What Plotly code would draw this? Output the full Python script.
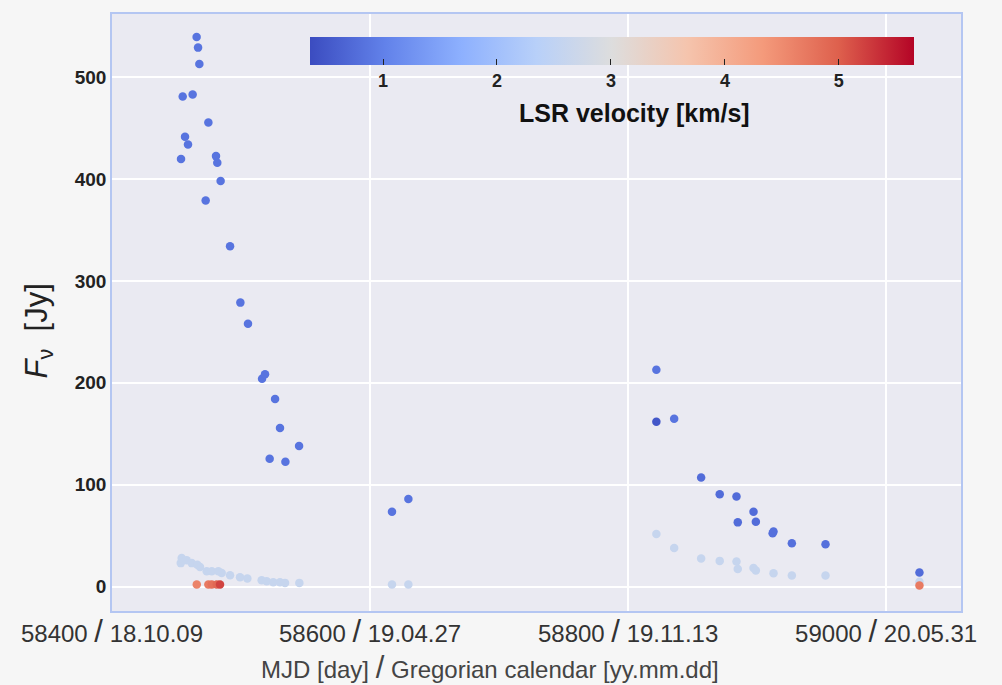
import plotly.graph_objects as go

# Strong (blue) velocity component
mjd_blue = [58453.5, 58454.8, 58456.6, 58458.9, 58462.5, 58465.6, 58466.7, 58467.7,
            58472.6, 58474.7, 58480.6, 58481.6, 58484.2, 58491.5, 58499.5, 58505.4,
            58516.3, 58518.6, 58522.2, 58526.4, 58530.2, 58534.4, 58545.0,
            58617.0, 58629.7,
            58821.9, 58821.9, 58835.7, 58856.6, 58871.0, 58884.0, 58885.0, 58897.2,
            58899.0, 58912.7, 58912.0, 58926.9, 58953.0, 59025.8]
flux_blue = [419.6, 481.0, 441.5, 434.0, 483.0, 539.5, 529.0, 513.0,
             379.0, 455.6, 422.5, 416.0, 398.0, 334.0, 278.7, 258.0,
             204.0, 208.5, 125.5, 184.0, 155.6, 122.5, 138.0,
             73.5, 86.0,
             212.7, 161.8, 164.7, 107.0, 90.5, 88.5, 63.0, 73.5,
             63.7, 54.0, 52.3, 42.5, 41.5, 13.7]
vlsr_blue = [0.85, 0.85, 0.85, 0.85, 0.85, 0.85, 0.85, 0.85,
             0.85, 0.85, 0.85, 0.85, 0.85, 0.85, 0.85, 0.85,
             0.85, 0.85, 0.85, 0.85, 0.85, 0.85, 0.85,
             0.85, 0.85,
             0.85, 0.5, 0.85, 0.75, 0.75, 0.75, 0.75, 0.75,
             0.75, 0.8, 0.8, 0.8, 0.8, 0.75]

# Weak (light) velocity component
mjd_light = [58453.3, 58454.0, 58457.9, 58461.8, 58466.1, 58468.2, 58473.4, 58477.3,
             58482.4, 58485.0, 58491.5, 58499.2, 58504.9, 58516.0, 58519.9, 58525.0,
             58530.2, 58534.1, 58545.2,
             58617.0, 58629.7,
             58821.9, 58835.7, 58856.6, 58871.0, 58884.0, 58885.0, 58897.2, 58899.0,
             58912.7, 58926.9, 58953.0, 59025.8]
flux_light = [23.0, 28.0, 25.8, 23.0, 21.5, 19.3, 15.0, 15.0,
              15.0, 13.4, 11.0, 9.1, 7.8, 6.2, 5.2, 4.2,
              4.2, 3.6, 3.6,
              2.0, 2.0,
              51.6, 37.9, 27.5, 25.2, 24.5, 17.3, 18.3, 15.7,
              13.0, 10.8, 10.8, 4.6]
vlsr_light = [2.6] * len(mjd_light)

# Red-shifted velocity component
mjd_red = [58465.7, 58474.7, 58477.3, 58481.2, 58483.7, 59025.8]
flux_red = [2.0, 2.0, 2.0, 2.0, 2.0, 1.0]
vlsr_red = [4.6, 4.7, 4.8, 4.9, 5.2, 4.7]

x_ticks = [58400, 58600, 58800, 59000]
x_mjd_labels = ["58400", "58600", "58800", "59000"]
x_date_labels = ["18.10.09", "19.04.27", "19.11.13", "20.05.31"]
y_ticks = [0, 100, 200, 300, 400, 500]
cb_ticks = [1, 2, 3, 4, 5]

SLASH = "<span style='font-size:31px'>/</span>"
x_ticktext = [f"{m} {SLASH} {d}" for m, d in zip(x_mjd_labels, x_date_labels)]

coolwarm = [
    [0.0, "rgb(59,76,192)"], [0.125, "rgb(98,130,234)"], [0.25, "rgb(141,176,254)"],
    [0.375, "rgb(184,208,249)"], [0.5, "rgb(221,221,221)"], [0.625, "rgb(245,196,173)"],
    [0.75, "rgb(244,154,123)"], [0.875, "rgb(222,96,77)"], [1.0, "rgb(180,4,38)"],
]

xs = mjd_light + mjd_blue + mjd_red
ys = flux_light + flux_blue + flux_red
cs = vlsr_light + vlsr_blue + vlsr_red

fig = go.Figure()
fig.add_trace(go.Scatter(
    x=xs, y=ys, mode="markers",
    marker=dict(
        size=8.5, color=cs, colorscale=coolwarm, cmin=0.36, cmax=5.66,
        line=dict(width=0),
        colorbar=dict(
            orientation="h", x=0.589, xanchor="center", y=0.962, yanchor="top",
            xpad=0, ypad=0,
            len=0.711, lenmode="fraction", thickness=28, outlinewidth=0,
            tickvals=cb_ticks, ticks="inside", ticklen=6, tickcolor="#222",
            tickfont=dict(family="Liberation Sans, Arial", size=18, color="#222", weight="bold"),
        ),
    ),
    showlegend=False,
))

fig.update_layout(
    width=1002, height=685,
    margin=dict(l=112, r=41, t=14, b=74),
    paper_bgcolor="#f6f6f6",
    plot_bgcolor="#eaeaf2",
    font=dict(family="Liberation Sans, Arial", color="#222"),
    annotations=[
        dict(text="LSR velocity [km/s]", xref="paper", yref="paper", x=0.615, y=0.834,
             xanchor="center", yanchor="middle", showarrow=False,
             font=dict(family="Liberation Sans, Arial", size=25, color="#111", weight="bold")),
        dict(text="MJD [day] " + SLASH + " Gregorian calendar [yy.mm.dd]", xref="paper", yref="paper",
             x=0.445, y=-0.094, xanchor="center", yanchor="middle", showarrow=False,
             font=dict(family="Liberation Sans, Arial", size=24, color="#444")),
        dict(text="<i>F</i><sub>ν</sub>  [Jy]", xref="paper", yref="paper",
             x=-0.086, y=0.47, xanchor="center", yanchor="middle", showarrow=False, textangle=-90,
             font=dict(family="Liberation Sans, Arial", size=31, color="#222")),
    ],
)
fig.update_xaxes(
    range=[58400, 59058], tickvals=x_ticks, ticktext=x_ticktext,
    showgrid=True, gridcolor="white", gridwidth=1.5, zeroline=False,
    showline=True, linecolor="#b4c6f2", linewidth=1.5, mirror=True,
    ticks="",
    tickfont=dict(family="Liberation Sans, Arial", size=24, color="#333"),
)
fig.update_yaxes(
    range=[-24, 562], tickvals=y_ticks,
    showgrid=True, gridcolor="white", gridwidth=1.5, zeroline=False,
    showline=True, linecolor="#b4c6f2", linewidth=1.5, mirror=True,
    tickfont=dict(family="Liberation Sans, Arial", size=19, color="#222", weight="bold"),
)

fig.write_html("out.html")
